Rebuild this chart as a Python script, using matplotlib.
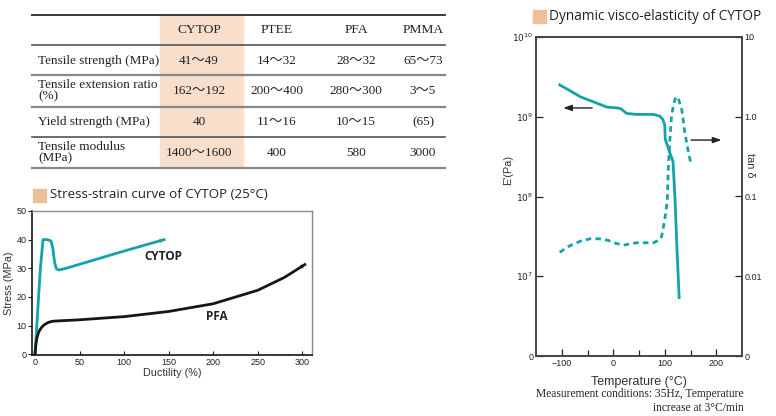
import numpy as np
import matplotlib.pyplot as plt
from matplotlib.patches import Rectangle
from matplotlib.lines import Line2D
from matplotlib.ticker import FixedLocator

# ---------------- data ----------------
materials = ["CYTOP", "PTEE", "PFA", "PMMA"]
row_labels = ["Tensile strength (MPa)", "Tensile extension ratio\n(%)",
              "Yield strength (MPa)", "Tensile modulus\n(MPa)"]
table_vals = [
    ["41～49", "14～32", "28～32", "65～73"],
    ["162～192", "200～400", "280～300", "3～5"],
    ["40", "11～16", "10～15", "(65)"],
    ["1400～1600", "400", "580", "3000"],
]

cytop_x = [0, 3, 6, 9, 14, 18, 20, 22, 24, 27, 35, 60, 90, 120, 145]
cytop_y = [0, 15, 30, 40, 40, 39.5, 37, 32, 29.8, 29.4, 30.0, 32.3, 35.1, 37.8, 40]
pfa_x = [0, 1, 2, 4, 6, 9, 12, 16, 20, 25, 50, 100, 150, 200, 250, 280, 303]
pfa_y = [0, 3.5, 5.5, 7.6, 8.8, 9.9, 10.6, 11.2, 11.5, 11.6, 12.0, 13.1, 14.9,
         17.6, 22.3, 26.8, 31.3]

temp_e = [-104, -85, -64, -40, -12, 7, 15, 26, 46, 78, 90, 96, 100, 101, 105,
          110, 116, 118, 120, 124, 128]
e_mod = [2.51e9, 2.14e9, 1.78e9, 1.55e9, 1.32e9, 1.29e9, 1.26e9, 1.10e9, 1.07e9,
         1.07e9, 1.02e9, 9.3e8, 7.9e8, 5.2e8, 4.4e8, 3.5e8, 2.75e8, 1.6e8, 9.1e7,
         2.0e7, 5.4e6]
temp_t = [-104, -85, -64, -45, -28, -10, 1, 20, 35, 46, 78, 88, 94, 100, 103, 105,
          107, 110, 113, 117, 120, 123, 126, 130, 133, 136, 139, 144, 150]
tan_d = [0.0200, 0.0240, 0.0275, 0.0295, 0.0295, 0.0282, 0.0263, 0.0245, 0.0257,
         0.0263, 0.0263, 0.0282, 0.0316, 0.0513, 0.0708, 0.0912, 0.240, 0.513, 1.0,
         1.41, 1.66, 1.78, 1.74, 1.41, 1.23, 0.89, 0.63, 0.42, 0.27]

W, H = 776, 416
TEAL = "#14a3a6"
PEACH = "#eebf9b"
SHADE = "#f8dfcb"
SERIF = "Liberation Serif"
SANS = "Liberation Sans"
TITLE = "Open Sans"


def fx(x):
    return x / W


def fy(y):
    return 1 - y / H


fig = plt.figure(figsize=(W / 100, H / 100), dpi=100)

# ---------------- table ----------------
fig.add_artist(Rectangle((fx(160), fy(168)), fx(243) - fx(160), fy(15) - fy(168),
                         transform=fig.transFigure, color=SHADE, zorder=0))
for yy, c, lw in [(15, "#3a3a3a", 1.4), (45, "#555555", 1.2), (75, "#888888", 1.6),
                  (107, "#888888", 1.6), (137, "#555555", 1.2), (168, "#888888", 1.6)]:
    fig.add_artist(Line2D([fx(32), fx(445)], [fy(yy), fy(yy)], color=c, lw=lw,
                          transform=fig.transFigure))

col_x = [199, 277, 356, 423]
row_y = [61, 91, 122, 153]
for cx, m in zip(col_x, materials):
    fig.text(fx(cx), fy(30), m, ha="center", va="center", family=SERIF,
             fontsize=9.7, color="#222222")
for ry, lab, vals in zip(row_y, row_labels, table_vals):
    fig.text(fx(38), fy(ry), lab, ha="left", va="center", family=SERIF,
             fontsize=9.5, color="#222222", linespacing=0.9)
    for cx, v in zip(col_x, vals):
        fig.text(fx(cx), fy(ry), v, ha="center", va="center",
                 family=[SERIF, "Noto Sans CJK JP"], fontsize=9.5, color="#222222")

# ---------------- headings ----------------
fig.add_artist(Rectangle((fx(33), fy(202)), fx(13), 13 / H,
                         transform=fig.transFigure, color=PEACH))
fig.text(fx(50), fy(195), "Stress-strain curve of CYTOP (25°C)", family=TITLE,
         fontsize=9.6, va="center", ha="left", color="#222222")
fig.add_artist(Rectangle((fx(533), fy(23)), fx(13), 13 / H,
                         transform=fig.transFigure, color=PEACH))
fig.text(fx(549), fy(16), "Dynamic visco-elasticity of CYTOP", family=TITLE,
         fontsize=9.8, va="center", ha="left", color="#222222")

# ---------------- stress-strain ----------------
ax1 = fig.add_axes([fx(32), fy(355), fx(312) - fx(32), fy(211) - fy(355)])
ax1.plot(cytop_x, cytop_y, color=TEAL, lw=2)
ax1.plot(pfa_x, pfa_y, color="#1a1414", lw=2)
ax1.annotate("", xy=(cytop_x[-1], cytop_y[-1]), xytext=(cytop_x[-2], cytop_y[-2]),
             arrowprops=dict(arrowstyle="-|>,head_length=0.3,head_width=0.15",
                             color=TEAL, lw=0.1, shrinkA=0, shrinkB=0))
ax1.annotate("", xy=(pfa_x[-1], pfa_y[-1]), xytext=(pfa_x[-2], pfa_y[-2]),
             arrowprops=dict(arrowstyle="-|>,head_length=0.3,head_width=0.15",
                             color="#1a1414", lw=0.1, shrinkA=0, shrinkB=0))
ax1.text(144, 34, "CYTOP", fontsize=8.5, fontweight="bold", family=TITLE,
         ha="center", va="center", color="#222222")
ax1.text(204, 13, "PFA", fontsize=8.5, fontweight="bold", family=TITLE,
         ha="center", va="center", color="#222222")
ax1.set_xlim(-3.4, 311)
ax1.set_ylim(-0.3, 50)
ax1.set_xticks([0, 50, 100, 150, 200, 250, 300])
ax1.set_yticks([0, 10, 20, 30, 40, 50])
ax1.tick_params(axis="y", direction="out", length=3, width=0.8, labelsize=6.5,
                pad=1, colors="#222222")
ax1.tick_params(axis="x", direction="in", length=3, width=0.8, labelsize=6.5,
                pad=2, colors="#222222")
for lab in ax1.get_xticklabels() + ax1.get_yticklabels():
    lab.set_family(SANS)
for s in ["left", "bottom"]:
    ax1.spines[s].set_color("#1a1414")
    ax1.spines[s].set_linewidth(1.2)
for s in ["top", "right"]:
    ax1.spines[s].set_color("#8a8a8a")
    ax1.spines[s].set_linewidth(1.0)
ax1.set_xlabel("Ductility (%)", family=SANS, fontsize=7.8, color="#333333", labelpad=1)
ax1.set_ylabel("Stress (MPa)", family=SANS, fontsize=7.8, color="#333333", labelpad=2)

# ---------------- visco-elasticity ----------------
ax2 = fig.add_axes([fx(536), fy(356), fx(742) - fx(536), fy(37) - fy(356)])
ax2.set_yscale("log")
ax2.plot(temp_e, e_mod, color=TEAL, lw=2)
ax2.set_xlim(-150, 250)
ax2.set_ylim(1e6, 1e10)
ax2.yaxis.set_major_locator(FixedLocator([1e6, 1e7, 1e8, 1e9, 1e10]))
ax2.yaxis.set_minor_locator(FixedLocator([]))
ax2.set_yticklabels(["0", "$10^7$", "$10^8$", "$10^9$", "$10^{10}$"])
ax2.set_xticks([-100, 0, 100, 200])
ax2.set_xticklabels(["−100", "0", "100", "200"])
ax2.set_xticks([-50, 50, 150], minor=True)
ax2.tick_params(axis="both", which="both", direction="in", length=5, width=0.9,
                labelsize=6.5, colors="#222222", pad=2)
ax2.tick_params(axis="x", which="minor", length=4)
for lab in ax2.get_xticklabels() + ax2.get_yticklabels():
    lab.set_family(SANS)
ax2.set_ylabel("E'(Pa)", family=SANS, fontsize=7.8, color="#333333")
ax2.yaxis.set_label_coords(-0.112, 0.583)
ax2.set_xlabel("Temperature (°C)", family=SANS, fontsize=9, color="#333333", labelpad=6)
ax2.annotate("", xy=(-97, 1.29e9), xytext=(-41, 1.29e9),
             arrowprops=dict(arrowstyle="-|>,head_length=0.5,head_width=0.18",
                             color="#222222", lw=1.0, shrinkA=0, shrinkB=0))

ax3 = ax2.twinx()
ax3.set_yscale("log")
ax3.plot(temp_t, tan_d, color=TEAL, lw=2, ls=(0, (2.0, 1.5)))
ax3.set_ylim(1e-3, 10)
ax3.yaxis.set_major_locator(FixedLocator([1e-3, 1e-2, 1e-1, 1, 10]))
ax3.yaxis.set_minor_locator(FixedLocator([]))
ax3.set_yticklabels(["0", "0.01", "0.1", "1.0", "10"])
ax3.tick_params(axis="y", direction="in", length=5, width=0.9, labelsize=6.5,
                colors="#222222", pad=2)
for lab in ax3.get_yticklabels():
    lab.set_family(SANS)
ax3.set_ylabel("tan δ", family=SANS, fontsize=7.8, color="#333333", rotation=270)
ax3.yaxis.set_label_coords(1.063, 0.599)
ax3.annotate("", xy=(210, 0.51), xytext=(151, 0.51),
             arrowprops=dict(arrowstyle="-|>,head_length=0.5,head_width=0.18",
                             color="#222222", lw=1.0, shrinkA=0, shrinkB=0))
for a in (ax2, ax3):
    for s in a.spines.values():
        s.set_color("#4a4242")
        s.set_linewidth(1.2)

fig.text(fx(744), fy(394), "Measurement conditions: 35Hz, Temperature", family=SERIF,
         fontsize=8.3, ha="right", va="center", color="#222222")
fig.text(fx(744), fy(408), "increase at 3°C/min", family=SERIF,
         fontsize=8.3, ha="right", va="center", color="#222222")

fig.savefig("out.png", dpi=100)
